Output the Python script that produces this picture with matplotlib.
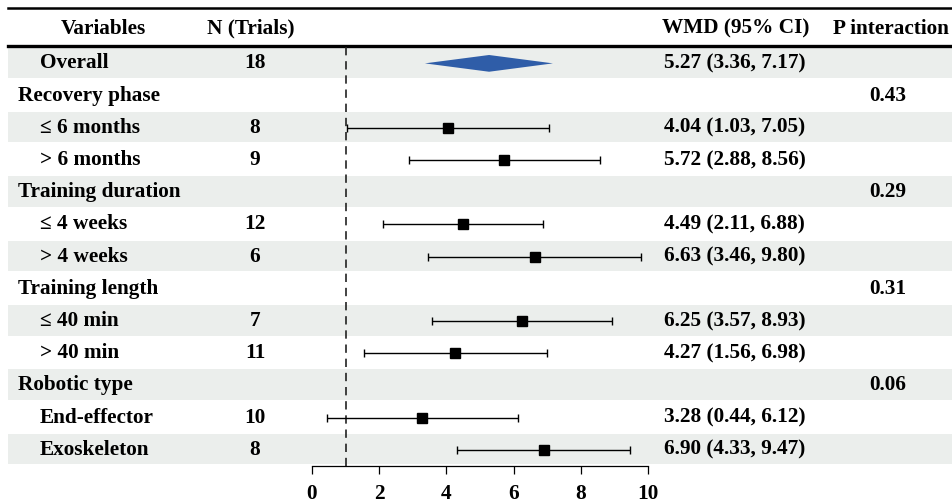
import numpy as np
import matplotlib.pyplot as plt
import matplotlib.transforms as mtransforms

plt.rcParams['font.family'] = ['Liberation Serif', 'DejaVu Serif']
plt.rcParams['font.weight'] = 'bold'

# data
labels = ["Overall", "Recovery phase", "≤ 6 months", "> 6 months",
          "Training duration", "≤ 4 weeks", "> 4 weeks",
          "Training length", "≤ 40 min", "> 40 min",
          "Robotic type", "End-effector", "Exoskeleton"]
is_group = [False, True, False, False, True, False, False, True, False, False, True, False, False]
n_trials = ["18", "", "8", "9", "", "12", "6", "", "7", "11", "", "10", "8"]
wmd = [5.27, np.nan, 4.04, 5.72, np.nan, 4.49, 6.63, np.nan, 6.25, 4.27, np.nan, 3.28, 6.90]
ci_lo = [3.36, np.nan, 1.03, 2.88, np.nan, 2.11, 3.46, np.nan, 3.57, 1.56, np.nan, 0.44, 4.33]
ci_hi = [7.17, np.nan, 7.05, 8.56, np.nan, 6.88, 9.80, np.nan, 8.93, 6.98, np.nan, 6.12, 9.47]
p_inter = ["", "0.43", "", "", "0.29", "", "", "0.31", "", "", "0.06", "", ""]
ref_line = 1
xticks = [0, 2, 4, 6, 8, 10]

W, H = 952, 504
fig = plt.figure(figsize=(W / 100, H / 100), dpi=100)
ax = fig.add_axes([0, 38 / H, 1, (466 - 7) / H])

# x scale: 0 -> 312 px, 10 -> 648 px
ppu = (648 - 312) / 10
ax.set_xlim(-312 / ppu, (W - 312) / ppu)
ax.set_ylim(12.5, -1.75)

rows = np.arange(len(labels))
shade = '#ebeeec'
for i in rows:
    if i % 2 == 0:
        ax.axhspan(i - 0.5, i + 0.45, xmin=8 / W, xmax=1, color=shade, lw=0, zorder=0)

# header rules
ax.axhline(-1.72, xmin=8 / W, xmax=1, color='black', lw=1.8, clip_on=False)
ax.axhline(-0.55, xmin=8 / W, xmax=1, color='black', lw=2.4, clip_on=False)

# reference line
ax.vlines(ref_line, -0.5, 12.5, colors='#222222', linestyles=(0, (5, 3.5)), lw=1.2, zorder=2)

# subgroup estimates
est = np.array(wmd[1:])
lo = np.array(ci_lo[1:])
hi = np.array(ci_hi[1:])
ok = ~np.isnan(est)
yy = rows[1:][ok]
ax.errorbar(est[ok], yy, xerr=[est[ok] - lo[ok], hi[ok] - est[ok]], fmt='s',
            color='black', ms=7.5, lw=1.0, capsize=3, capthick=1.0, zorder=3)

# overall diamond
dh = 0.26
ax.fill([ci_lo[0], wmd[0], ci_hi[0], wmd[0]], [0, -dh, 0, dh], color='#2f5da8', lw=0, zorder=3)

# axis
for s in ['top', 'left', 'right']:
    ax.spines[s].set_visible(False)
ax.spines['bottom'].set_bounds(0, 10)
ax.spines['bottom'].set_linewidth(0.9)
ax.set_xticks(xticks)
ax.set_xticklabels([str(t) for t in xticks])
ax.tick_params(axis='x', direction='out', length=6, width=0.9, pad=7, labelsize=15.3)
ax.set_yticks([])

# text columns
tr = mtransforms.blended_transform_factory(ax.transAxes, ax.transData)
fs = 15.3
hy = -1.07
ax.text(103 / W, hy, "Variables", transform=tr, ha='center', va='center', fontsize=fs)
ax.text(251 / W, hy, "N (Trials)", transform=tr, ha='center', va='center', fontsize=fs)
ax.text(662 / W, hy, "WMD (95% CI)", transform=tr, ha='left', va='center', fontsize=fs)
ax.text(833 / W, hy, "P interaction", transform=tr, ha='left', va='center', fontsize=fs)

for i in rows:
    x0 = 18 if is_group[i] else 40
    ax.text(x0 / W, i, labels[i], transform=tr, ha='left', va='center', fontsize=fs)
    if n_trials[i]:
        ax.text(255 / W, i, n_trials[i], transform=tr, ha='center', va='center', fontsize=fs)
    if not np.isnan(wmd[i]):
        s = f"{wmd[i]:.2f} ({ci_lo[i]:.2f}, {ci_hi[i]:.2f})"
        ax.text(664 / W, i, s, transform=tr, ha='left', va='center', fontsize=fs)
    if p_inter[i]:
        ax.text(888 / W, i, p_inter[i], transform=tr, ha='center', va='center', fontsize=fs)

fig.savefig('out.png', dpi=100)
